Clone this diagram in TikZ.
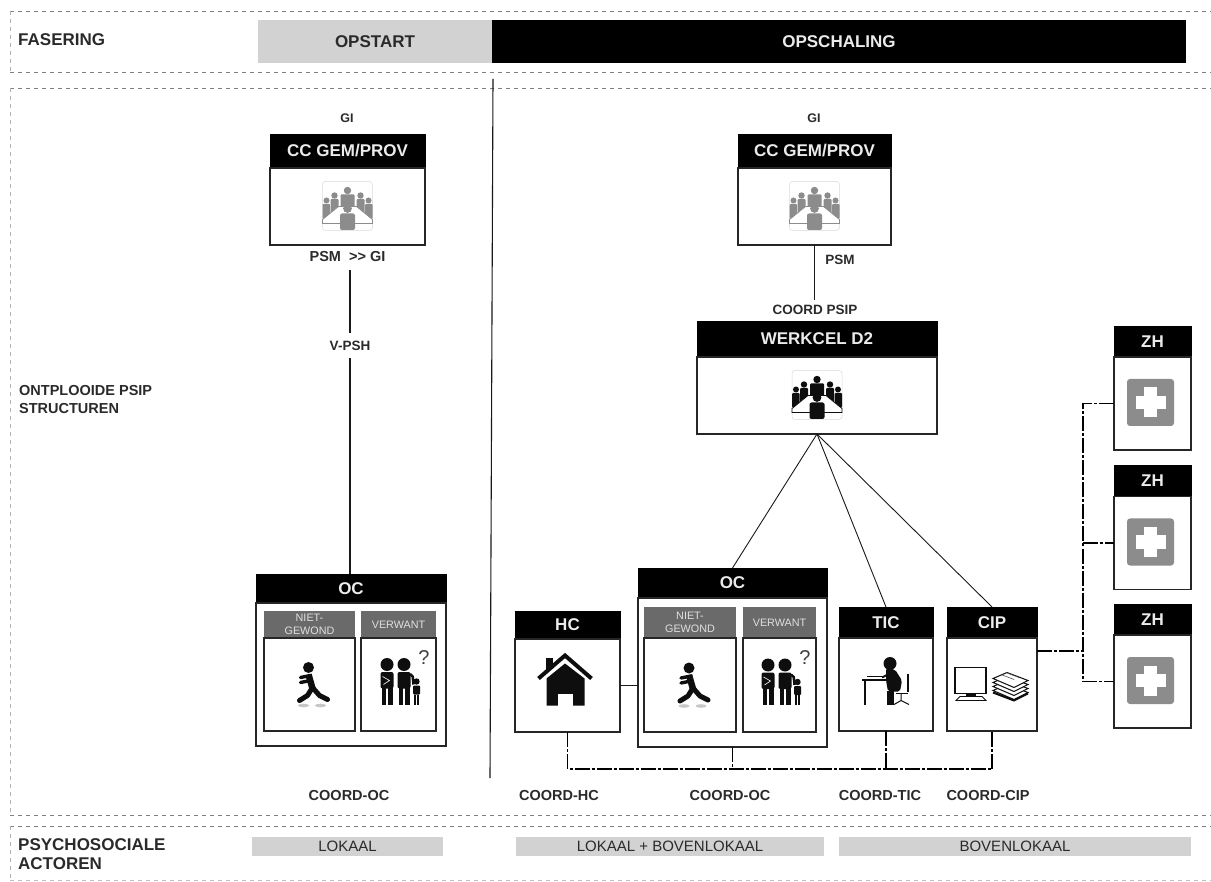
\documentclass[tikz,border=0pt]{standalone}
\usepackage{fontspec}
\setmainfont{Liberation Sans}
\usetikzlibrary{positioning}
\definecolor{lightbar}{HTML}{D2D2D2}
\definecolor{subgrey}{HTML}{6A6A6A}
\definecolor{icongrey}{HTML}{8C8C8C}
\definecolor{icondark}{HTML}{0E0E0E}
\definecolor{textdark}{HTML}{2A2A2A}
\tikzset{
  headbox/.style={fill=black,draw=black,text=white!92!black,outer sep=0pt,inner sep=0pt,font=\bfseries\fontsize{17}{17}\selectfont},
  bodybox/.style={fill=white,draw=black!85,line width=1.2pt,outer sep=0pt,inner sep=0pt},
  subhead/.style={fill=subgrey,text=white!88!black,outer sep=0pt,inner sep=0pt,align=center,font=\fontsize{10.8}{12.5}\selectfont},
  lbl/.style={text=textdark,inner sep=0pt,font=\bfseries\fontsize{14.5}{14.5}\selectfont},
  smalllbl/.style={lbl,font=\bfseries\fontsize{13.5}{13.5}\selectfont},
  biglbl/.style={text=textdark,inner sep=0pt,anchor=west,align=left,font=\bfseries\fontsize{17}{19}\selectfont},
  areabar/.style={fill=lightbar,text=textdark,inner sep=0pt,outer sep=0pt,font=\fontsize{15}{15}\selectfont},
  area/.style={draw=black!50,line width=.6pt,dash pattern=on 4pt off 4pt},
  link/.style={draw=black!90,line width=1.1pt},
  coordlink/.style={draw=black,line width=1.2pt,dash pattern=on 15pt off 2pt on 3pt off 2pt},
  pics/meeting/.style={code={
    \draw[black!15,rounded corners=3pt,line width=.5pt] (-25,-25) rectangle (25,24);
    \fill[#1] (0,-16) circle (3.7pt);
    \fill[#1,rounded corners=1pt] (-7,-12) rectangle (7,2);
    \foreach \s in {-1,1}{
      \fill[#1] (\s*13,-11) circle (3.2pt);
      \fill[#1,rounded corners=1pt] (\s*9,-7.5) rectangle (\s*17,7);
      \fill[#1] (\s*21,-6) circle (3pt);
      \fill[#1,rounded corners=1pt] (\s*17.5,-2.5) rectangle (\s*25,12);
    }
    \draw[#1,fill=white,line width=.8pt] (-9,0) -- (-25,13) -- (-25,17) -- (25,17) -- (25,13) -- (9,0) -- cycle;
    \fill[#1] (0,2) circle (4.4pt);
    \fill[#1,rounded corners=2pt] (-7.5,7) rectangle (7.5,23.5);
  }},
  pics/runner/.style={code={
    \fill[black!22] (-6,21) ellipse (5.5pt and 1.8pt);
    \fill[black!22] (11,21) ellipse (5.5pt and 1.8pt);
    \fill[icondark] (-1,-17) circle (5.5pt);
    \draw[icondark,line width=6.5pt,line join=round] (-1,-10) -- (3,4);
    \draw[icondark,line width=3.4pt,line cap=round,line join=round] (-9,-7) -- (1,-9) (-9,-2) -- (1,-4);
    \draw[icondark,line width=5pt,line join=round,line cap=round] (-10,16) -- (-2,11) -- (3,3) -- (10,11) -- (18,15);
  }},
  pics/family/.style={code={
    \foreach \a in {-11.5,5.5}{
      \fill[icondark] (\a,-20) circle (6.5pt);
      \fill[icondark,rounded corners=2pt] (\a-6.5,-12.5) rectangle (\a+6.5,4);
      \fill[icondark] (\a-5.5,3) rectangle (\a-.6,20);
      \fill[icondark] (\a+.6,3) rectangle (\a+5.5,20);
    }
    \draw[icondark,line width=2.5pt,rounded corners=2pt] (5,-10) -- (14,-10) -- (15,0);
    \draw[white,line width=.6pt] (-16,-8) -- (-9,-4) -- (-15,0);
    \fill[icondark] (18,-3) circle (3.2pt);
    \fill[icondark,rounded corners=1pt] (14.5,1) rectangle (21.5,10);
    \fill[icondark] (15.2,10) rectangle (17.6,20);
    \fill[icondark] (18.4,10) rectangle (20.8,20);
    \node[text=black!75,inner sep=0pt,font=\fontsize{20}{20}\selectfont] at (25.5,-27) {?};
  }},
  pics/house/.style={code={
    \fill[icondark] (-22,-28) rectangle (-15,-15);
    \fill[white] (-31,-6) -- (-2.5,-33) -- (26,-6) -- (26,-2) -- (-31,-2) -- cycle;
    \draw[icondark,line width=4pt,line join=miter] (-29,-7) -- (-2.5,-30) -- (24,-7);
    \fill[icondark] (-21,20) -- (-21,-7) -- (-2.5,-22) -- (17,-7) -- (17,20) -- cycle;
    \fill[white] (-9.5,8) rectangle (5.5,20.5);
  }},
  pics/clerk/.style={code={
    \fill[icondark] (4,-21) circle (6.5pt);
    \fill[icondark,rounded corners=2pt] (0,-16) -- (9,-15) -- (16,-4) -- (14,7) -- (2,7) -- (0,-4) -- cycle;
    \draw[icondark,line width=2pt] (-4,-7) -- (4,-11);
    \draw[icondark,line width=1.2pt] (-19,-8) -- (-4,-8);
    \draw[icondark,line width=2pt] (-24,-5) -- (3,-5);
    \draw[icondark,line width=1.5pt] (-21,-5) -- (-21,20);
    \fill[icondark] (1,6) rectangle (8,20);
    \draw[icondark,line width=1.8pt] (22,-11) -- (22,7);
    \draw[icondark,line width=1.5pt] (10,9) -- (22,9);
    \draw[icondark,line width=1pt] (15,9) -- (15,16) (8,20) -- (15,16) -- (23,20);
  }},
  pics/desktop/.style={code={
    \draw[icondark,fill=white,line width=1.4pt] (-37,-17) rectangle (-6,9);
    \fill[icondark] (-26,9) rectangle (-16,12);
    \draw[icondark,fill=white,line width=.8pt] (-36,16) -- (-32,12) -- (-10,12) -- (-6,16) -- cycle;
    \foreach \y in {6,2,-2,-6}{
      \draw[icondark,fill=white,line width=1pt] (1,\y) -- (15,\y-6) -- (36,\y+2) -- (22,\y+9) -- cycle;
    }
    \draw[black!70,line width=.6pt] (9,-10) -- (22,-5) (14,-12) -- (27,-7);
    \draw[icondark,line width=2pt] (1,8) -- (22,16) -- (36,9);
  }},
  pics/medcross/.style={code={
    \fill[icongrey,rounded corners=3pt] (-25.5,-24.5) rectangle (21.5,22.5);
    \fill[white] (-8.5,-16) rectangle (4.5,14);
    \fill[white] (-17,-7.5) rectangle (13,5.5);
  }}
}
\begin{document}
\begin{tikzpicture}[x=1pt,y=-1pt]
\useasboundingbox (0,0) rectangle (1211,882);
% rows
\foreach \y in {11,72,88,815,826}{
	\draw[area] (10,\y) -- (1211,\y);
}
\draw[area,draw=black!30] (10,11) -- (10,72) (10,88) -- (10,815) (10,826) -- (10,880);
\draw[area,draw=black!25] (10,880) -- (1211,880);
% row titles
\node[biglbl] (fasering) at (18,40) {FASERING};
\node[biglbl,font=\bfseries\fontsize{14.5}{18}\selectfont] (structuren) at (19,400) {ONTPLOOIDE PSIP\\STRUCTUREN};
\node[biglbl] (actoren) at (18,854) {PSYCHOSOCIALE\\ACTOREN};
% phases
\node[areabar,minimum width=234,minimum height=43,font=\bfseries\fontsize{17}{17}\selectfont] (opstart) at (375,41.5) {OPSTART};
\node[fill=black,text=white!92!black,inner sep=0pt,outer sep=0pt,minimum width=694,minimum height=43,font=\bfseries\fontsize{17}{17}\selectfont] (opschaling) at (839,41.5) {OPSCHALING};
\coordinate (splittop) at (493,79);
\coordinate (splitbot) at (490,778);
\draw[link] (splittop) -- (splitbot);
% left column
\node[lbl,font=\bfseries\fontsize{12.5}{12.5}\selectfont] (gia) at (347,118) {GI};
\node[headbox,minimum width=155,minimum height=34] (cca) at (347.5,151) {CC GEM/PROV};
\node[bodybox,minimum width=155,minimum height=77,below=0pt of cca] (ccab) {};
\pic at (ccab.center) {meeting=icongrey};
\node[lbl,minimum height=26] (psma) at (347.5,257) {PSM\ \ >{}> GI};
\node[smalllbl,minimum height=25] (vpsh) at (350,345.5) {V-PSH};
\node[headbox,minimum width=190,minimum height=29] (oca) at (351,588.5) {OC};
\node[bodybox,minimum width=190,minimum height=143,below=0pt of oca] (ocab) {};
\node[subhead,minimum width=91,minimum height=27] (nieta) at (309.5,624.5) {NIET-\\GEWOND};
\node[bodybox,minimum width=91,minimum height=93,below=0pt of nieta] (nietab) {};
\pic at (nietab.center) {runner};
\node[subhead,minimum width=75,minimum height=27] (verwa) at (398.5,624.5) {VERWANT};
\node[bodybox,minimum width=75,minimum height=93,below=0pt of verwa] (verwab) {};
\pic at (verwab.center) {family};
\draw[link] (psma.south -| vpsh) -- (vpsh.north);
\draw[link] (vpsh.south) -- (oca.north -| vpsh);
\node[lbl] (coorda) at (349,796) {COORD-OC};
% right column
\node[lbl,font=\bfseries\fontsize{12.5}{12.5}\selectfont] (gib) at (814,118) {GI};
\node[headbox,minimum width=153,minimum height=34] (ccb) at (814.5,151) {CC GEM/PROV};
\node[bodybox,minimum width=153,minimum height=77,below=0pt of ccb] (ccbb) {};
\pic at (ccbb.center) {meeting=icongrey};
\node[smalllbl] (psmb) at (840,260) {PSM};
\node[smalllbl,minimum height=20] (coordpsip) at (815,310) {COORD PSIP};
\draw[link] (ccbb.south) -- (ccbb.south |- coordpsip.north);
\node[headbox,minimum width=240,minimum height=36] (werkcel) at (817,339) {WERKCEL D2};
\node[bodybox,minimum width=240,minimum height=77,below=0pt of werkcel] (werkcelb) {};
\pic at (werkcelb.center) {meeting=icondark};
% right column, lower row
\node[headbox,minimum width=105,minimum height=28] (hc) at (567.5,625) {HC};
\node[bodybox,minimum width=105,minimum height=93,below=0pt of hc] (hcb) {};
\pic at (hcb.center) {house};
\node[headbox,minimum width=189,minimum height=30] (ocr) at (732.5,583) {OC};
\node[bodybox,minimum width=189,minimum height=149,below=0pt of ocr] (ocrb) {};
\node[subhead,minimum width=92,minimum height=31] (nietr) at (690,622.5) {NIET-\\GEWOND};
\node[bodybox,minimum width=92,minimum height=94,below=0pt of nietr] (nietrb) {};
\pic at (nietrb.center) {runner};
\node[subhead,minimum width=73,minimum height=31] (verwr) at (779.5,622.5) {VERWANT};
\node[bodybox,minimum width=73,minimum height=94,below=0pt of verwr] (verwrb) {};
\pic at (verwrb.center) {family};
\node[headbox,minimum width=94,minimum height=31] (tic) at (886,622.5) {TIC};
\node[bodybox,minimum width=94,minimum height=93,below=0pt of tic] (ticb) {};
\pic at (ticb.center) {clerk};
\node[headbox,minimum width=90,minimum height=31] (cip) at (992,622.5) {CIP};
\node[bodybox,minimum width=90,minimum height=93,below=0pt of cip] (cipb) {};
\pic at (cipb.center) {desktop};
\draw[link] (hcb.east) -- (hcb.east -| ocrb.west);
\foreach \t in {ocr,tic,cip}{
	\draw[link,line width=.9pt] (werkcelb.south) -- (\t.north);
}
% hospitals
\node[headbox,minimum width=77,minimum height=31] (zha) at (1152.5,341.5) {ZH};
\node[bodybox,minimum width=77,minimum height=93,below=0pt of zha] (zhab) {};
\node[headbox,minimum width=77,minimum height=31] (zhb) at (1152.5,481) {ZH};
\node[bodybox,minimum width=77,minimum height=93,below=0pt of zhb] (zhbb) {};
\node[headbox,minimum width=77,minimum height=31] (zhc) at (1152.5,619.5) {ZH};
\node[bodybox,minimum width=77,minimum height=93,below=0pt of zhc] (zhcb) {};
\foreach \z in {zhab,zhbb,zhcb}{
	\pic at (\z.center) {medcross};
}
% dash-dot links
\coordinate (zhbus) at (1083,651);
\coordinate (coordbus) at (567,769);
\draw[coordlink] (cipb.east |- zhbus) -- (zhbus);
\draw[coordlink] (zhab.west) -| (zhbus |- zhcb.west) -- (zhcb.west);
\draw[coordlink] (zhbus |- zhbb.west) -- (zhbb.west);
\draw[coordlink] (hcb.south) |- (cipb.south |- coordbus) -- (cipb.south);
\draw[coordlink] (ocrb.south) -- (ocrb.south |- coordbus);
\draw[coordlink] (ticb.south) -- (ticb.south |- coordbus);
% bottom labels
\node[lbl] (coordhc) at (559,796) {COORD-HC};
\node[lbl] (coordoc) at (730,796) {COORD-OC};
\node[lbl] (coordtic) at (880,796) {COORD-TIC};
\node[lbl] (coordcip) at (988,796) {COORD-CIP};
\node[areabar,minimum width=191,minimum height=19] (lokaal) at (347.5,846.5) {LOKAAL};
\node[areabar,minimum width=308,minimum height=19] (lokboven) at (670,846.5) {LOKAAL + BOVENLOKAAL};
\node[areabar,minimum width=352,minimum height=19] (boven) at (1015,846.5) {BOVENLOKAAL};
\end{tikzpicture}
\end{document}
